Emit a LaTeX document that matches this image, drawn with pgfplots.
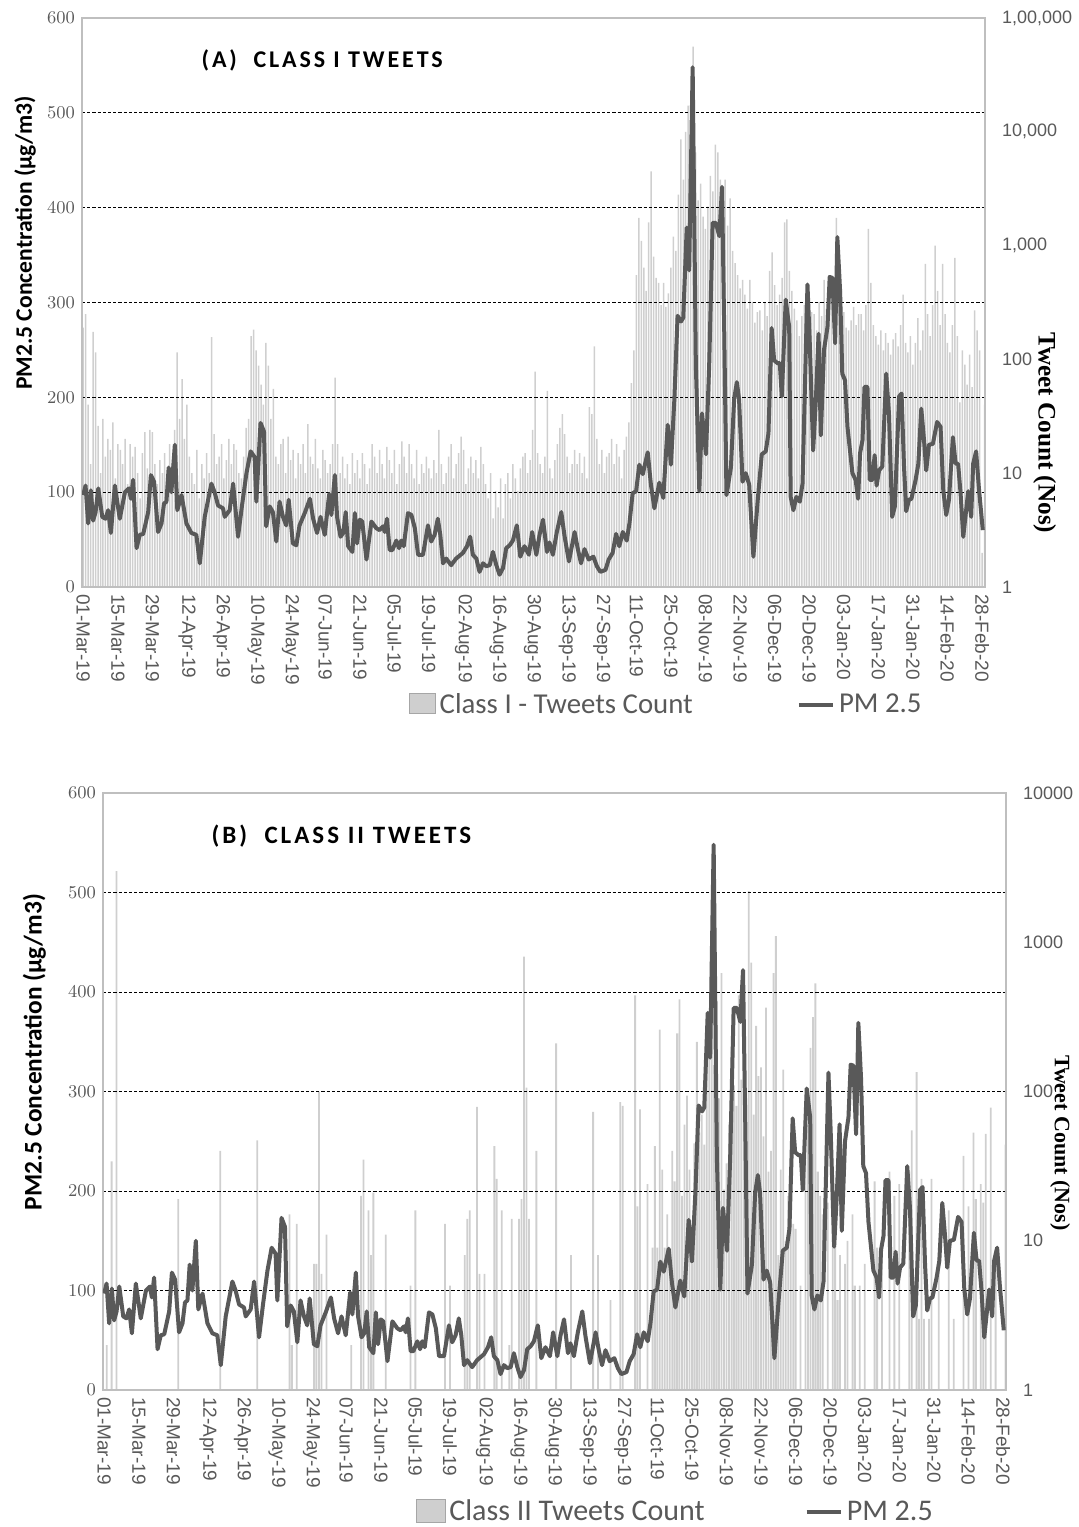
\documentclass[border=0pt]{standalone}
\usepackage{fontspec}
\setmainfont{Liberation Sans}
\newfontfamily\carlito{Carlito}
\newfontfamily\titlefont{Carlito}[LetterSpace=12]
\newfontfamily\timesf{Liberation Serif}
\usepackage{pgfplots}
\pgfplotsset{compat=1.18}
\usepackage{pgfplotstable}
\definecolor{tickc}{HTML}{595959}
\definecolor{pmline}{HTML}{595959}
\definecolor{framec}{HTML}{BFBFBF}
\definecolor{barc}{HTML}{CFCFCF}

\pgfplotstableread[row sep=\\]{
d v\\
0 97\\ 0.94 107\\ 2.0 67\\ 3.1 102\\ 4.0 70\\ 5.0 79\\ 6.1 104\\ 7.7 74\\ 9.0 72\\ 10.1 81\\
11.2 57\\ 12.8 107\\ 14.8 72\\ 16.9 100\\ 18.5 104\\ 19.3 93\\ 20.2 113\\ 21.6 41\\ 22.9 55\\ 24.3 56\\
26.3 79\\ 27.4 118\\ 28.7 111\\ 30.3 58\\ 31.7 67\\ 32.7 88\\ 33.7 90\\ 34.6 126\\ 35.7 100\\ 37.1 150\\
38.1 81\\ 39.8 97\\ 41.8 67\\ 43.8 57\\ 45.8 55\\ 47.2 25\\ 49.2 74\\ 51.9 109\\ 53.2 100\\ 54.6 86\\
56.6 83\\ 57.3 74\\ 59.3 81\\ 60.7 109\\ 62.7 53\\ 64.3 86\\ 66.1 120\\ 67.8 143\\ 69.4 137\\ 70.1 90\\
71.8 173\\ 73.2 164\\ 74.1 64\\ 75.5 85\\ 76.8 79\\ 78.2 48\\ 79.5 90\\ 80.9 74\\ 82.2 65\\ 83.2 92\\
84.9 46\\ 86.3 44\\ 87.6 65\\ 89.7 78\\ 91.8 93\\ 93.1 72\\ 94.7 57\\ 96.1 74\\ 97.8 55\\ 99.6 98\\
100.5 76\\ 101.9 118\\ 102.8 74\\ 104.2 53\\ 105.3 57\\ 106.3 79\\ 107.3 43\\ 109 37\\ 110 78\\ 110.9 46\\
112 71\\ 113 69\\ 114.7 29\\ 116.7 69\\ 118.7 62\\ 120 60\\ 121.4 64\\ 122.1 58\\ 123 72\\ 124.1 39\\
125.2 39\\ 126.8 49\\ 127.9 41\\ 128.8 49\\ 129.8 43\\ 131.5 78\\ 132.9 76\\ 134.3 62\\ 135.6 34\\ 137.6 34\\
139.6 65\\ 140.9 48\\ 142.3 55\\ 143.6 72\\ 144.6 55\\ 145.7 25\\ 147 30\\ 149 23\\ 151 30\\ 153.8 36\\
155.4 43\\ 156.7 53\\ 157.8 34\\ 159.2 30\\ 160.5 16\\ 161.9 25\\ 163.2 22\\ 164.6 23\\ 165.9 37\\ 167.3 23\\
168.6 13\\ 170 20\\ 171.3 41\\ 172.7 44\\ 174 49\\ 175.6 65\\ 177 32\\ 178.7 43\\ 180.5 34\\ 181.8 58\\
183.5 34\\ 184.8 55\\ 186.2 71\\ 187.8 37\\ 188.8 47\\ 190.2 34\\ 191.8 58\\ 193.6 79\\ 194.9 54\\ 196.7 27\\
199 58\\ 200.3 40\\ 201.6 25\\ 203 40\\ 204.7 29\\ 206.6 32\\ 208 22\\ 209.4 16\\ 211.5 18\\ 212.8 29\\
214.4 36\\ 215.8 56\\ 217.1 43\\ 218.5 58\\ 220.1 49\\ 221.2 67\\ 222.5 99\\ 223.9 101\\ 225.2 129\\ 226.6 119\\
228.6 142\\ 229.9 108\\ 231.3 83\\ 233.3 110\\ 234.9 94\\ 236.7 171\\ 238 129\\ 239.4 198\\ 240.7 286\\ 242.1 280\\
243 284\\ 244.4 379\\ 245.4 334\\ 246.8 548\\ 248.1 234\\ 249.5 101\\ 250.6 183\\ 252.2 140\\ 253.5 234\\ 254.9 384\\
256.2 384\\ 257.6 370\\ 258.7 422\\ 259.6 269\\ 260.5 97\\ 262.3 126\\ 263.6 198\\ 264.7 216\\ 265.6 198\\ 267 111\\
268.3 120\\ 269.7 108\\ 271.4 32\\ 273.1 90\\ 274.8 140\\ 276.4 143\\ 277.5 162\\ 278.8 273\\ 279.8 239\\ 281.2 236\\
282.1 236\\ 282.9 201\\ 284.5 303\\ 285.9 274\\ 286.5 95\\ 287.6 81\\ 288.8 95\\ 290.2 90\\ 291.3 109\\ 293.3 319\\
294.2 260\\ 295.6 144\\ 296.7 197\\ 297.8 267\\ 298.7 160\\ 300 250\\ 301.4 274\\ 302.3 327\\ 303.4 326\\ 304.5 257\\
305.4 369\\ 306.5 313\\ 307.4 225\\ 308.5 218\\ 309.5 169\\ 311.5 120\\ 312.8 113\\ 313.8 93\\ 314.6 141\\ 315.6 155\\
316.4 211\\ 317.6 211\\ 318.5 113\\ 319.6 113\\ 320.5 139\\ 321.3 107\\ 322.3 123\\ 323.6 127\\ 325.2 225\\ 326.3 183\\
327.6 74\\ 328.7 85\\ 330.4 201\\ 331.4 204\\ 332.4 127\\ 333.3 80\\ 334.4 92\\ 335.4 93\\ 337.1 113\\ 338.2 130\\
339.4 188\\ 340.5 155\\ 341.4 123\\ 342.5 150\\ 344.1 151\\ 345.8 174\\ 347.2 169\\ 348.3 102\\ 349.5 76\\ 350.6 92\\
352.2 158\\ 353.3 130\\ 354.3 130\\ 355.3 99\\ 356.4 53\\ 357.6 82\\ 358.4 101\\ 359.6 74\\ 360.4 130\\ 361.6 143\\
362.7 105\\ 364.3 60\\
}\pmdata

\pgfplotsset{
  myBase/.style={
    scale only axis, width=451.5pt,
    xmin=-0.5, xmax=365.2,
    axis line style={framec, line width=0.7pt},
    major tick length=0pt, minor tick length=0pt,
    tick style={draw=none},
    ticklabel style={font=\fontsize{9}{10}\selectfont, text=tickc},
  },
  myPM/.style={
    myBase, ymin=0, ymax=600,
    ytick={0,100,...,600},
    minor ytick={100,200,...,500},
    yminorgrids=true,
    minor grid style={black, line width=0.5pt, dash pattern=on 1.6pt off 1pt},
    xtick={0,14,...,364},
    xticklabels={01-Mar-19,15-Mar-19,29-Mar-19,12-Apr-19,26-Apr-19,10-May-19,24-May-19,07-Jun-19,21-Jun-19,05-Jul-19,19-Jul-19,02-Aug-19,16-Aug-19,30-Aug-19,13-Sep-19,27-Sep-19,11-Oct-19,25-Oct-19,08-Nov-19,22-Nov-19,06-Dec-19,20-Dec-19,03-Jan-20,17-Jan-20,31-Jan-20,14-Feb-20,28-Feb-20},
    xticklabel style={rotate=-90, anchor=west, font=\fontsize{9.5}{10}\selectfont},
    yticklabel style={font=\fontsize{9.5}{11}\selectfont},
  },
  myBar/.style={
    myBase, ymin=1,
    axis x line=none, axis y line*=right,
    yticklabel style={anchor=west, xshift=5pt},
  },
}

\begin{document}
\begin{tikzpicture}
\useasboundingbox (0,0) rectangle (539pt,-763.5pt);

% ---------------- Panel A ----------------
\begin{axis}[myBar, ymode=log, height=284.5pt, at={(41pt,-293.5pt)}, anchor=south west,
  ymax=100000, ytick={1,10,100,1000,10000,100000},
  yticklabels={1,10,100,{1,000},{10,000},{1,00,000}},
  ylabel={Tweet Count (Nos)},
  ylabel style={at={(rel axis cs:1.066,0.271)}, anchor=center, rotate=180,
    font=\timesf\bfseries\fontsize{12.6}{14}\selectfont, text=black}]
\addplot[ybar, bar width=0.75pt, fill=barc, draw=none] coordinates {
(0,190)(1,250)(2,40)(3,12)(4,175)(5,115)(6,26)(7,10)(8,30)(9,14)
(10,20)(11,16)(12,28)(13,9)(14,18)(15,16)(16,12)(17,20)(18,8)(19,18)
(20,14)(21,17)(22,10)(23,6)(24,15)(25,23)(26,11)(27,24)(28,23)(29,12)
(30,8)(31,13)(32,10)(33,15)(34,9)(35,18)(36,12)(37,24)(38,115)(39,30)
(40,67)(41,20)(42,40)(43,14)(44,10)(45,8)(46,16)(47,6)(48,12)(49,9)
(50,15)(51,10)(52,157)(53,22)(54,12)(55,14)(56,18)(57,9)(58,13)(59,20)
(60,12)(61,18)(62,16)(63,10)(64,9)(65,14)(66,25)(67,30)(68,160)(69,183)
(70,120)(71,88)(72,60)(73,40)(74,140)(75,88)(76,30)(77,55)(78,14)(79,12)
(80,18)(81,20)(82,10)(83,21)(84,13)(85,16)(86,9)(87,15)(88,12)(89,18)
(90,10)(91,27)(92,14)(93,12)(94,20)(95,11)(96,9)(97,16)(98,13)(99,10)
(100,12)(101,18)(102,69)(103,18)(104,10)(105,14)(106,9)(107,12)(108,8)(109,15)
(110,10)(111,13)(112,9)(113,15)(114,12)(115,8)(116,11)(117,18)(118,14)(119,10)
(120,16)(121,12)(122,9)(123,17)(124,13)(125,10)(126,16)(127,8)(128,12)(129,19)
(130,14)(131,10)(132,18)(133,12)(134,9)(135,16)(136,8)(137,12)(138,10)(139,14)
(140,11)(141,9)(142,13)(143,10)(144,24)(145,12)(146,8)(147,10)(148,14)(149,18)
(150,9)(151,12)(152,15)(153,21)(154,16)(155,8)(156,11)(157,14)(158,10)(159,13)
(160,9)(161,17)(162,12)(163,8)(164,6)(165,10)(166,4)(167,7)(168,5)(169,9)
(170,4)(171,8)(172,10)(173,6)(174,12)(175,9)(176,7)(177,11)(178,14)(179,15)
(180,10)(181,13)(182,24)(183,78)(184,15)(185,12)(186,10)(187,14)(188,53)(189,11)
(190,9)(191,13)(192,18)(193,25)(194,33)(195,22)(196,14)(197,10)(198,12)(199,16)
(200,12)(201,15)(202,10)(203,14)(204,9)(205,38)(206,33)(207,130)(208,20)(209,12)
(210,16)(211,10)(212,14)(213,15)(214,20)(215,12)(216,18)(217,14)(218,9)(219,16)
(220,21)(221,28)(222,62)(223,120)(224,550)(225,1750)(226,1100)(227,640)(228,400)(229,1600)
(230,4500)(231,800)(232,520)(233,470)(234,300)(235,470)(236,290)(237,380)(238,640)(239,1200)
(240,900)(241,2800)(242,8600)(243,3800)(244,10000)(245,17000)(246,6000)(247,56000)(248,6600)(249,2500)
(250,3500)(251,1800)(252,1400)(253,2200)(254,4100)(255,3000)(256,7700)(257,6600)(258,3800)(259,2100)
(260,3800)(261,1500)(262,2600)(263,900)(264,700)(265,550)(266,420)(267,500)(268,370)(269,280)
(270,500)(271,320)(272,210)(273,260)(274,270)(275,180)(276,320)(277,240)(278,600)(279,870)
(280,450)(281,300)(282,370)(283,520)(284,1600)(285,1700)(286,600)(287,400)(288,280)(289,220)
(290,160)(291,240)(292,300)(293,400)(294,220)(295,260)(296,250)(297,180)(298,320)(299,240)
(300,500)(301,280)(302,350)(303,470)(304,300)(305,1750)(306,350)(307,400)(308,260)(309,190)
(310,180)(311,220)(312,290)(313,200)(314,250)(315,250)(316,180)(317,300)(318,1400)(319,470)
(320,200)(321,160)(322,135)(323,180)(324,120)(325,170)(326,140)(327,110)(328,150)(329,170)
(330,130)(331,200)(332,370)(333,140)(334,115)(335,160)(336,90)(337,140)(338,230)(339,120)
(340,180)(341,690)(342,250)(343,160)(344,300)(345,1000)(346,400)(347,200)(348,690)(349,250)
(350,140)(351,115)(352,200)(353,780)(354,160)(355,42)(356,120)(357,90)(358,60)(359,110)
(360,57)(361,270)(362,180)(363,120)(364,2)(365,40)
};
\end{axis}

\begin{axis}[myPM, height=284.5pt, at={(41pt,-293.5pt)}, anchor=south west,
  ylabel={PM2.5 Concentration (µg/m3)},
  ylabel style={at={(rel axis cs:-0.063,0.605)}, anchor=center, font=\carlito\bfseries\fontsize{11.8}{13}\selectfont},
  legend style={at={(rel axis cs:0.648,-0.207)}, anchor=center, draw=none, fill=none,
    legend columns=2, font=\carlito\fontsize{14.4}{16}\selectfont, text=tickc,
    /tikz/every even column/.append style={column sep=50pt}},
  ]
\addlegendimage{legend image code/.code={\draw[fill=barc, draw=barc!80!black] (0cm,-0.16cm) rectangle (0.46cm,0.2cm);}}
\addlegendentry{Class I - Tweets Count}
\addplot[pmline, line width=2pt, line join=round] table[x=d, y=v] {\pmdata};
\addlegendentry{PM 2.5}
\node[anchor=center, font=\titlefont\bfseries\fontsize{12}{14}\selectfont] at (rel axis cs:0.266,0.926) {(A)\ \ CLASS I TWEETS};
\end{axis}

% ---------------- Panel B ----------------
\begin{axis}[myBar, ymode=log, height=298.5pt, at={(51.5pt,-695pt)}, anchor=south west,
  ymax=10000, ytick={1,10,100,1000,10000},
  yticklabels={1,10,100,1000,10000},
  ylabel={Tweet Count (Nos)},
  ylabel style={at={(rel axis cs:1.06,0.414)}, anchor=center, rotate=180,
    font=\timesf\bfseries\fontsize{11}{13}\selectfont, text=black}]
\addplot[ybar, bar width=0.9pt, fill=barc, draw=none] coordinates {
(1,2)(3,34)(5,3000)(30,19)(47,40)(62,47)(75,15)(76,2)(78,13)(85,7)(86,7)(87,100)(88,6)(90,11)
(100,2)(104,20)(105,35)(107,16)(108,8)(109,21)(114,11)(124,5)(126,16)(138,13)(140,5)(146,8)
(147,14)(148,16)(151,79)(152,6)(154,6)(158,43)(159,26)(161,16)(164,2)(165,14)(168,14)(169,19)
(170,800)(171,106)(172,14)(175,40)(183,210)(189,8)(198,73)(200,8)(205,4)(209,85)(210,80)
(215,440)(216,17)(217,76)(220,24)(222,9)(223,43)(224,9)(225,260)(226,30)(227,9)(228,15)(229,8)
(230,40)(231,25)(232,245)(233,415)(234,20)(235,60)(236,94)(237,30)(238,7)(239,45)(240,215)
(241,53)(242,70)(243,44)(244,325)(245,185)(246,640)(247,150)(248,400)(249,90)(250,620)(251,22)
(252,33)(253,60)(254,185)(255,110)(256,80)(257,440)(258,120)(259,365)(260,90)(261,2200)(262,730)
(263,70)(264,275)(265,127)(266,145)(267,50)(268,365)(269,29)(270,40)(271,620)(272,1100)(273,8)
(274,30)(275,140)(276,10)(277,20)(278,25)(279,13)(280,12)(282,5)(284,35)(285,60)(286,196)
(287,315)(288,530)(289,29)(290,20)(291,15)(293,18)(295,24)(296,12)(297,4)(298,8)(300,7)(301,10)
(303,15)(304,5)(306,5)(308,7)(312,25)(313,9)(315,9)(318,29)(320,20)(322,24)(326,29)(327,55)
(329,135)(330,3)(331,26)(332,3)(334,3)(335,26)(338,8)(342,16)(344,3)(348,37)(350,17)(352,53)
(353,19)(355,24)(356,18)(357,52)(359,78)(361,8)(365,44)
};
\end{axis}

\begin{axis}[myPM, height=298.5pt, at={(51.5pt,-695pt)}, anchor=south west,
  ylabel={PM2.5 Concentration (µg/m3)},
  ylabel style={at={(rel axis cs:-0.076,0.566)}, anchor=center, font=\carlito\bfseries\fontsize{12.7}{14}\selectfont},
  legend style={at={(rel axis cs:0.635,-0.204)}, anchor=center, draw=none, fill=none,
    legend columns=2, font=\carlito\fontsize{15}{17}\selectfont, text=tickc,
    /tikz/every even column/.append style={column sep=48pt}},
  ]
\addlegendimage{legend image code/.code={\draw[fill=barc, draw=barc!80!black] (0cm,-0.18cm) rectangle (0.5cm,0.22cm);}}
\addlegendentry{Class II Tweets Count}
\addplot[pmline, line width=2pt, line join=round] table[x=d, y=v] {\pmdata};
\addlegendentry{PM 2.5}
\node[anchor=center, font=\titlefont\bfseries\fontsize{12.5}{14}\selectfont] at (rel axis cs:0.264,0.928) {(B)\ \ CLASS II TWEETS};
\end{axis}
\end{tikzpicture}
\end{document}
